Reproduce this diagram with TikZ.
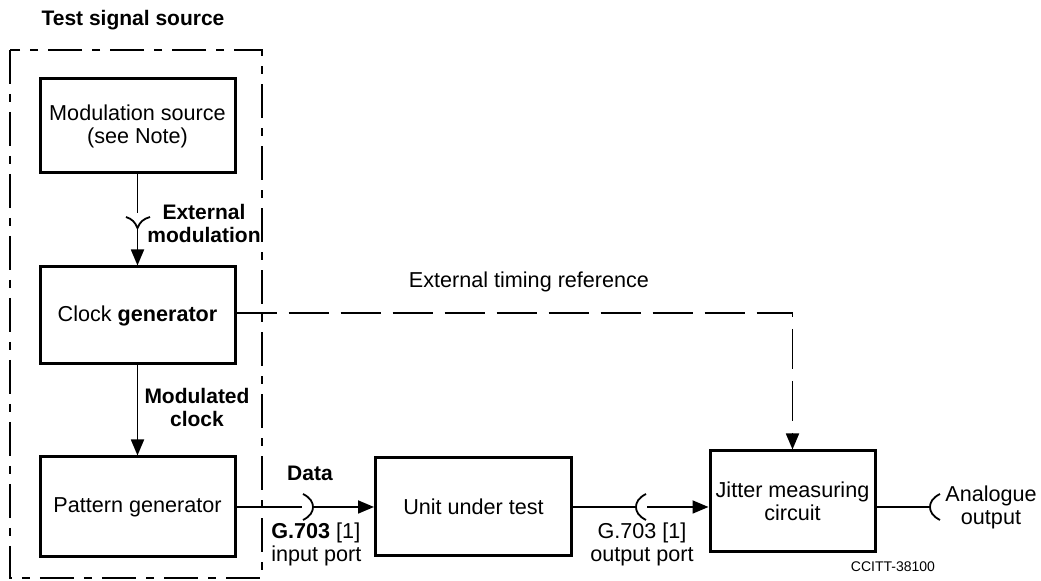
\documentclass[tikz,border=0pt]{standalone}
\usepackage{fontspec}
\setmainfont{Liberation Sans}
\usetikzlibrary{arrows.meta}

\tikzset{
  block/.style={draw,line width=1.5pt,align=center,inner sep=0pt},
  lbl/.style={align=center,inner sep=0pt},
  wire/.style={line width=0.9pt},
  feed/.style={wire,-{Triangle[length=8pt,width=6.5pt]}},
  timing/.style={feed,dash pattern=on 20pt off 6pt},
  frame/.style={line width=1pt,dash pattern=on 17pt off 5pt on 4pt off 5pt}
}

\begin{document}
\begin{tikzpicture}
  [x=0.5pt,y=-0.5pt,font=\fontsize{10.8}{11.5}\selectfont]
  \useasboundingbox (0,0) rectangle (1041,581);
  % test signal source frame
  \draw[frame] (10,50) rectangle (262,578);
  \node[lbl,font=\fontsize{10.5}{11.5}\selectfont\bfseries] (tss) at (133,20) {Test signal source};

  \node[block,minimum width=97.5pt,minimum height=47pt] (modsrc) at (137.5,126) {Modulation source\\(see Note)};
  \node[block,minimum width=97.5pt,minimum height=48.5pt] (clkgen) at (137.5,315.5) {Clock \textbf{generator}};
  \node[block,minimum width=97.5pt,minimum height=50pt] (patgen) at (137.5,507) {Pattern generator};
  \node[block,minimum width=98pt,minimum height=49pt] (uut) at (473.5,507) {Unit under test};
  \node[block,minimum width=82.5pt,minimum height=50.5pt] (jitter) at (792.5,501.5) {Jitter measuring\\circuit};

  % external modulation socket
  \coordinate (mcup) at (137.5,213);
  \coordinate (mplug) at (137.5,228);
  \draw[wire] (modsrc.south) -- (mcup);
  \draw[wire] (126,217) .. controls (132,219) and (135,222) .. (mplug)
                        .. controls (140,222) and (143,219) .. (150,217);
  \draw[feed] (mplug) -- (clkgen.north);
  \node[lbl,font=\fontsize{10.5}{11.5}\selectfont\bfseries] (extmod) at (204,224) {External\\modulation};

  \draw[feed] (clkgen.south) -- (patgen.north);
  \node[lbl,font=\fontsize{10.5}{11.5}\selectfont\bfseries] (modclk) at (197,408) {Modulated\\clock};

  % timing reference
  \coordinate (tcorner) at (792.5,313);
  \draw[timing] (clkgen.east |- tcorner) -- (tcorner) -- (jitter.north);
  \node[lbl] (timlbl) at (529,282) {External timing reference};

  % input port
  \coordinate (inend) at (302,507);
  \coordinate (inplug) at (313,507);
  \draw[wire] (patgen.east) -- (inend);
  \draw[wire] (303,494) .. controls (311,498) and (313,503) .. (inplug)
                        .. controls (313,511) and (311,516) .. (303,520);
  \draw[feed] (inplug) -- (uut.west);
  \node[lbl,font=\fontsize{10.5}{11.5}\selectfont\bfseries] (datalbl) at (310,473) {Data};
  \node[lbl,align=left,anchor=west] (inlbl) at (271,544) {\textbf{G.703} [1]\\input port};

  % output port
  \coordinate (outplug) at (636,507);
  \coordinate (outend) at (647,507);
  \draw[wire] (uut.east) -- (outplug);
  \draw[wire] (646,494) .. controls (638,498) and (636,503) .. (outplug)
                        .. controls (636,511) and (638,516) .. (646,520);
  \draw[feed] (outend) -- (jitter.west |- outend);
  \node[lbl] (outlbl) at (642,544) {G.703 [1]\\output port};

  % analogue output
  \coordinate (anaplug) at (930,507);
  \draw[wire] (jitter.east |- anaplug) -- (anaplug);
  \draw[wire] (940,494) .. controls (932,498) and (930,503) .. (anaplug)
                        .. controls (930,511) and (932,516) .. (940,520);
  \node[lbl] (analbl) at (991,507) {Analogue\\output};

  \node[lbl,font=\fontsize{7}{8}\selectfont] (ccitt) at (893,567) {CCITT-38100};
\end{tikzpicture}
\end{document}
